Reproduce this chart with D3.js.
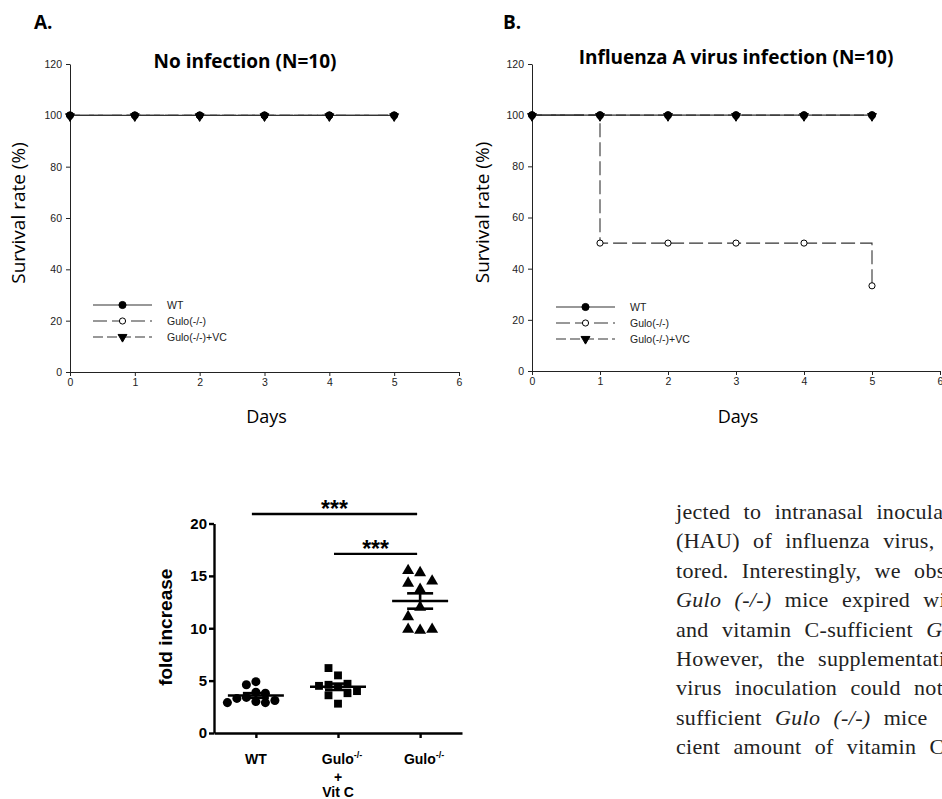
<!DOCTYPE html>
<html>
<head>
<meta charset="utf-8">
<script src="https://cdn.jsdelivr.net/npm/d3@7"></script>
<style>
  body { margin: 0; background: #fff; }
  svg { display: block; }
</style>
</head>
<body>
<div id="figure"></div>
<script>
// survival curves (panels A and B)
const days = [0, 1, 2, 3, 4, 5];
const dayTicks = [0, 1, 2, 3, 4, 5, 6];
const survivalTicks = [0, 20, 40, 60, 80, 100, 120];
const groupNames = ['WT', 'Gulo(-/-)', 'Gulo(-/-)+VC'];

const noInfWT = [100, 100, 100, 100, 100, 100];
const noInfGulo = [100, 100, 100, 100, 100, 100];
const noInfGuloVC = [100, 100, 100, 100, 100, 100];

const fluWT = [100, 100, 100, 100, 100, 100];
const fluGulo = [100, 50, 50, 50, 50, 33.3];
const fluGuloVC = [100, 100, 100, 100, 100, 100];

// fold increase scatter (panel C)
const foldGroups = ['WT', 'Gulo+VitC', 'Gulo'];
const foldWT = [3.9, 4.6, 4.9, 3.8, 3.4, 3.3, 3.1, 3.0, 2.9, 2.9];
const foldGuloVC = [4.4, 4.6, 4.7, 5.5, 6.2, 4.5, 4.0, 3.8, 3.6, 2.8];
const foldGulo = [15.3, 15.5, 14.3, 14.5, 13.7, 12.0, 11.1, 9.8, 9.9, 9.9];
const foldTicks = [0, 5, 10, 15, 20];

const paragraph = [
  'jected to intranasal inoculation',
  '(HAU) of influenza virus,',
  'tored. Interestingly, we observed',
  '<i>Gulo (-/-)</i> mice expired within',
  'and vitamin C-sufficient <i>Gulo</i>',
  'However, the supplementation',
  'virus inoculation could not',
  'sufficient <i>Gulo (-/-)</i> mice',
  'cient amount of vitamin C is'
];

const W = 942, H = 799;
const svg = d3.select('#figure').append('svg')
  .attr('width', W)
  .attr('height', H)
  .style('font-family', '"Liberation Sans", Arial, sans-serif');

const styles = {
  'WT': {dash: null, symbol: 'circle', fill: '#000'},
  'Gulo(-/-)': {dash: '14,5', symbol: 'circle', fill: '#fff'},
  'Gulo(-/-)+VC': {dash: '10,4', symbol: 'triangle', fill: '#000'}
};

function marker(sel, kind, fill) {
  if (kind === 'circle') {
    sel.attr('d', d3.symbol(d3.symbolCircle, fill === '#fff' ? 30 : 40)());
  } else {
    sel.attr('d', d3.symbol(d3.symbolTriangle, 34)());
  }
  sel.attr('fill', fill).attr('stroke', '#000').attr('stroke-width', 1);
}

function drawSurvival(o) {
  const x = d3.scaleLinear().domain([0, 6]).range([o.left, o.right]);
  const y = d3.scaleLinear().domain([0, 120]).range([o.bottom, o.top]);
  const g = svg.append('g');

  // axes
  const ax = g.append('g')
    .attr('transform', `translate(0,${o.bottom})`)
    .call(d3.axisBottom(x).tickValues(dayTicks).tickFormat(d3.format('d'))
      .tickSize(4).tickSizeOuter(0).tickPadding(3));
  const ay = g.append('g')
    .attr('transform', `translate(${o.left},0)`)
    .call(d3.axisLeft(y).tickValues(survivalTicks).tickFormat(d3.format('d'))
      .tickSize(4).tickSizeOuter(0).tickPadding(4));
  [ax, ay].forEach(a => {
    a.attr('font-family', '"Liberation Sans", Arial, sans-serif').attr('font-size', 10.5);
    a.selectAll('text').attr('fill', '#222');
    a.selectAll('path, line').attr('stroke', '#222');
  });

  // series: draw Gulo first so WT ends up on top
  const order = [1, 2, 0];
  const line = d3.line()
    .x((d, i) => x(days[i]))
    .y(d => y(d))
    .curve(d3.curveStepAfter);
  order.forEach(k => {
    const name = groupNames[k];
    g.append('path')
      .attr('d', line(o.series[k]))
      .attr('fill', 'none')
      .attr('stroke', '#333')
      .attr('stroke-width', 1.1)
      .attr('stroke-dasharray', styles[name].dash);
  });
  order.forEach(k => {
    const name = groupNames[k];
    g.selectAll(null)
      .data(o.series[k])
      .enter()
      .append('path')
      .attr('transform', (d, i) => `translate(${x(days[i])},${y(d)})` + (styles[name].symbol === 'triangle' ? ' translate(0,1) rotate(180)' : ''))
      .call(marker, styles[name].symbol, styles[name].fill);
  });

  // legend
  groupNames.forEach((name, i) => {
    const ly = o.legendY + i * 16;
    g.append('line')
      .attr('x1', o.legendX).attr('x2', o.legendX + 59)
      .attr('y1', ly).attr('y2', ly)
      .attr('stroke', '#333').attr('stroke-width', 1.1)
      .attr('stroke-dasharray', styles[name].dash);
    g.append('path')
      .attr('transform', `translate(${o.legendX + 29.5},${ly})` + (styles[name].symbol === 'triangle' ? ' rotate(180)' : ''))
      .call(marker, styles[name].symbol, styles[name].fill);
    g.append('text')
      .attr('x', o.legendX + 74).attr('y', ly + 4)
      .attr('font-size', 10.5).attr('fill', '#222')
      .text(name);
  });

  // titles and labels
  g.append('text')
    .attr('x', o.letterX).attr('y', 29)
    .attr('font-family', '"Open Sans", sans-serif')
    .attr('font-weight', 700).attr('font-size', 19)
    .text(o.letter);
  g.append('text')
    .attr('x', o.titleX).attr('y', o.titleY)
    .attr('text-anchor', 'middle')
    .attr('font-family', '"Open Sans", sans-serif')
    .attr('font-weight', 700).attr('font-size', 19)
    .text(o.title);
  g.append('text')
    .attr('transform', `translate(${o.ylabelX},${(o.top + o.bottom) / 2 - 5}) rotate(-90)`)
    .attr('text-anchor', 'middle')
    .attr('font-family', '"Open Sans", sans-serif')
    .attr('font-size', 19)
    .text('Survival rate (%)');
  g.append('text')
    .attr('x', (o.left + o.right) / 2 + 2).attr('y', 423)
    .attr('text-anchor', 'middle')
    .attr('font-family', '"Open Sans", sans-serif')
    .attr('font-size', 18)
    .text('Days');
}

drawSurvival({
  left: 70, right: 459, top: 64, bottom: 372,
  series: [noInfWT, noInfGulo, noInfGuloVC],
  legendX: 93, legendY: 305,
  letter: 'A.', letterX: 34,
  title: 'No infection (N=10)', titleX: 245, titleY: 68,
  ylabelX: 25
});

drawSurvival({
  left: 532, right: 940, top: 64, bottom: 371,
  series: [fluWT, fluGulo, fluGuloVC],
  legendX: 556, legendY: 307,
  letter: 'B.', letterX: 503,
  title: 'Influenza A virus infection (N=10)', titleX: 736, titleY: 64,
  ylabelX: 489
});

// ---- panel C: fold increase scatter ----
const xF = d3.scalePoint().domain(foldGroups).range([214, 462]).padding(0.51);
const yF = d3.scaleLinear().domain([0, 20]).range([733, 523.5]);
const gc = svg.append('g');

const axX = gc.append('g')
  .attr('transform', 'translate(0,733)')
  .call(d3.axisBottom(xF).tickSize(5).tickSizeOuter(0).tickFormat(''));
const axY = gc.append('g')
  .attr('transform', 'translate(214,0)')
  .call(d3.axisLeft(yF).tickValues(foldTicks).tickSize(5).tickSizeOuter(0).tickPadding(2));
[axX, axY].forEach(a => {
  a.selectAll('path, line').attr('stroke-width', 2.4);
  a.attr('font-family', '"Liberation Sans", Arial, sans-serif')
    .attr('font-size', 15).attr('font-weight', 700);
  a.selectAll('text').attr('fill', '#000');
});

// simple beeswarm: push overlapping points sideways
function swarm(values, cx, step) {
  const placed = [];
  values.forEach(v => {
    const py = yF(v);
    for (let k = 0; k < 20; k++) {
      const off = k === 0 ? 0 : (k % 2 ? -1 : 1) * Math.ceil(k / 2) * step;
      const px = cx + off;
      if (placed.every(p => Math.hypot(p.x - px, p.y - py) >= step * 0.92)) {
        placed.push({x: px, y: py, v});
        break;
      }
    }
  });
  return placed;
}

const foldSeries = [
  {key: 'WT', values: foldWT, sym: d3.symbolCircle, size: 64, step: 9.5},
  {key: 'Gulo+VitC', values: foldGuloVC, sym: d3.symbolSquare, size: 62, step: 9.5},
  {key: 'Gulo', values: foldGulo, sym: d3.symbolTriangle, size: 62, step: 12}
];

foldSeries.forEach(s => {
  const cx = xF(s.key);
  const pts = swarm(s.values, cx, s.step);
  gc.selectAll(null)
    .data(pts)
    .enter()
    .append('path')
    .attr('transform', d => `translate(${d.x},${d.y})`)
    .attr('d', d3.symbol(s.sym, s.size)())
    .attr('fill', '#000');

  const m = d3.mean(s.values);
  const sem = d3.deviation(s.values) / Math.sqrt(s.values.length);
  const eg = gc.append('g').attr('stroke', '#000').attr('stroke-width', 2.6);
  eg.append('line')
    .attr('x1', cx - 28).attr('x2', cx + 28)
    .attr('y1', yF(m)).attr('y2', yF(m));
  eg.append('line')
    .attr('x1', cx).attr('x2', cx)
    .attr('y1', yF(m - sem)).attr('y2', yF(m + sem));
  [m - sem, m + sem].forEach(v => {
    eg.append('line')
      .attr('x1', cx - 13).attr('x2', cx + 13)
      .attr('y1', yF(v)).attr('y2', yF(v));
  });
});

// category labels
const catFont = 14;
gc.append('text')
  .attr('x', xF('WT')).attr('y', 764)
  .attr('text-anchor', 'middle').attr('font-weight', 700).attr('font-size', catFont)
  .text('WT');
[['Gulo+VitC', true], ['Gulo', false]].forEach(([key, vit]) => {
  const t = gc.append('text')
    .attr('x', xF(key) + 4).attr('y', 764)
    .attr('text-anchor', 'middle').attr('font-weight', 700).attr('font-size', catFont);
  t.append('tspan').text('Gulo');
  t.append('tspan').attr('font-size', 9).attr('dy', -6).text('-/-');
  if (vit) {
    gc.append('text')
      .attr('x', xF(key)).attr('y', 782)
      .attr('text-anchor', 'middle').attr('font-weight', 700).attr('font-size', catFont)
      .text('+');
    gc.append('text')
      .attr('x', xF(key)).attr('y', 797)
      .attr('text-anchor', 'middle').attr('font-weight', 700).attr('font-size', catFont)
      .text('Vit C');
  }
});

gc.append('text')
  .attr('transform', `translate(172,${yF(10) - 1}) rotate(-90)`)
  .attr('text-anchor', 'middle')
  .attr('font-weight', 700).attr('font-size', 19)
  .text('fold increase');

// significance bars
[
  {from: 'WT', to: 'Gulo', level: 20.9},
  {from: 'Gulo+VitC', to: 'Gulo', level: 17.1}
].forEach(b => {
  const x1 = xF(b.from) - 4, x2 = xF(b.to) - 3, ly = yF(b.level);
  gc.append('line')
    .attr('x1', x1).attr('x2', x2).attr('y1', ly).attr('y2', ly)
    .attr('stroke', '#000').attr('stroke-width', 2.4);
  gc.append('text')
    .attr('x', (x1 + x2) / 2).attr('y', ly + 3)
    .attr('text-anchor', 'middle').attr('font-weight', 700).attr('font-size', 23)
    .text('***');
});

// ---- body text (cut off at the right edge, as in the page scan) ----
const para = svg.append('g')
  .attr('font-family', '"Liberation Serif", "DejaVu Serif", serif')
  .attr('font-size', 22)
  .attr('fill', '#222');
paragraph.forEach((line, i) => {
  const t = para.append('text')
    .attr('x', 676)
    .attr('y', 519 + i * 29.4)
    .attr('word-spacing', 7.5)
    .attr('letter-spacing', 0.3);
  line.split(/(<i>.*?<\/i>)/).filter(s => s).forEach(part => {
    const it = part.startsWith('<i>');
    t.append('tspan')
      .attr('font-style', it ? 'italic' : null)
      .text(part.replace(/<\/?i>/g, ''));
  });
});
</script>
</body>
</html>
